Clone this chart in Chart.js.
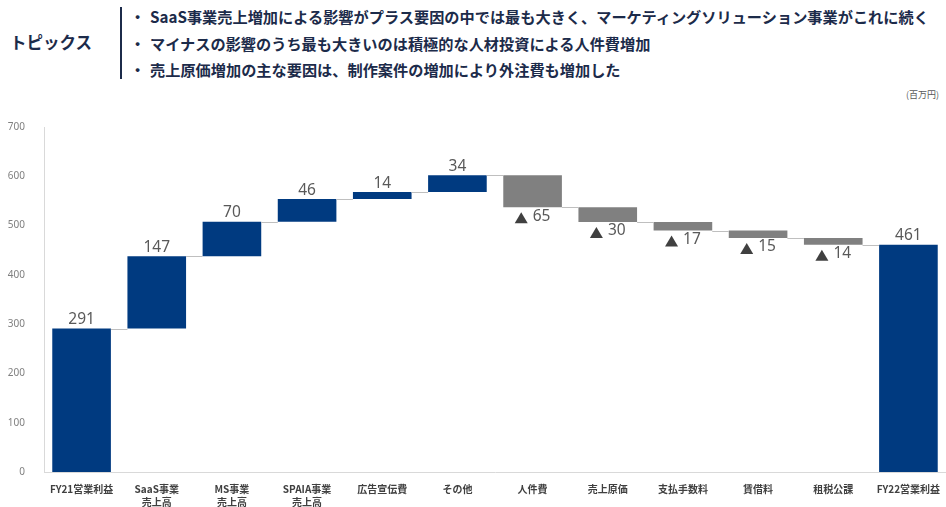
<!DOCTYPE html>
<html>
<head>
<meta charset="utf-8">
<script src="https://cdn.jsdelivr.net/npm/chart.js@4/dist/chart.umd.min.js"></script>
<style>
    body { margin: 0; width: 946px; height: 507px; background: #fff; overflow: hidden; position: relative;
           font-family: "Noto Sans CJK JP", "Noto Sans", sans-serif; }
    .topics-title { position: absolute; left: 10px; top: 30px; font-size: 16.5px; font-weight: bold; color: #1c2b4a; }
    .topics-rule { position: absolute; left: 120px; top: 7px; width: 1.5px; height: 72px; background: #1c2b4a; }
    .topics-list { position: absolute; left: 130px; top: 5px; margin: 0; padding: 0; list-style: none;
                   font-size: 15.2px; font-weight: bold; color: #1c2b4a; }
    .topics-list li { height: 26.5px; line-height: 22px; white-space: nowrap; }
    .topics-list li span { display: inline-block; width: 20px; }
    .unit { position: absolute; left: 906px; top: 88px; font-size: 9px; color: #595959; }
    #chart-wrap { position: absolute; left: 0; top: 0; width: 946px; height: 507px; }
</style>
</head>
<body>
<div class="topics-title">トピックス</div>
<div class="topics-rule"></div>
<ul class="topics-list">
    <li><span>・</span>SaaS事業売上増加による影響がプラス要因の中では最も大きく、マーケティングソリューション事業がこれに続く</li>
    <li><span>・</span>マイナスの影響のうち最も大きいのは積極的な人材投資による人件費増加</li>
    <li><span>・</span>売上原価増加の主な要因は、制作案件の増加により外注費も増加した</li>
</ul>
<div class="unit">(百万円)</div>
<div id="chart-wrap"><canvas id="chart"></canvas></div>

<script>
// Waterfall data (百万円)
const categories = [
    'FY21営業利益', ['SaaS事業', '売上高'], ['MS事業', '売上高'], ['SPAIA事業', '売上高'],
    '広告宣伝費', 'その他', '人件費', '売上原価', '支払手数料', '賃借料', '租税公課', 'FY22営業利益'
];
const startValue = 291;
const changes = [147, 70, 46, 14, 34, -65, -30, -17, -15, -14];
const endValue = 461;
const yTicks = [0, 100, 200, 300, 400, 500, 600, 700];

// Build floating bars from the running total
const ranges = [];
const labels = [];
let total = startValue;
ranges.push([0, startValue]);
labels.push(String(startValue));
changes.forEach(c => {
    ranges.push([total, total + c]);
    labels.push(c < 0 ? String(-c) : String(c));
    total += c;
});
ranges.push([0, endValue]);
labels.push(String(endValue));

const colors = ranges.map((r, i) => {
    if (i === 0 || i === ranges.length - 1) return '#003a80';
    return r[1] < r[0] ? '#808080' : '#003a80';
});

// Connector lines between bars
const connectorPlugin = {
    id: 'connectors',
    afterDatasetsDraw(chart) {
        const ctx = chart.ctx;
        const meta = chart.getDatasetMeta(0);
        const y = chart.scales.y;
        ctx.save();
        ctx.strokeStyle = '#bfbfbf';
        ctx.lineWidth = 1;
        for (let i = 0; i < ranges.length - 1; i++) {
            const level = ranges[i][1];
            const a = meta.data[i], b = meta.data[i + 1];
            const py = Math.round(y.getPixelForValue(level)) + 0.5;
            ctx.beginPath();
            ctx.moveTo(a.x + a.width / 2, py);
            ctx.lineTo(b.x - b.width / 2, py);
            ctx.stroke();
        }
        ctx.restore();
    }
};

// Value labels: above for increases, below with ▲ for decreases
const valueLabelPlugin = {
    id: 'valueLabels',
    afterDatasetsDraw(chart) {
        const ctx = chart.ctx;
        const meta = chart.getDatasetMeta(0);
        const y = chart.scales.y;
        ctx.save();
        ctx.font = '15.5px "Noto Sans", sans-serif';
        ranges.forEach((r, i) => {
            const bar = meta.data[i];
            const neg = r[1] < r[0];
            if (!neg) {
                ctx.fillStyle = '#595959';
                ctx.textAlign = 'center';
                ctx.textBaseline = 'bottom';
                ctx.fillText(labels[i], bar.x, y.getPixelForValue(Math.max(r[0], r[1])) - 1);
            } else {
                const py = y.getPixelForValue(Math.min(r[0], r[1])) + 2;
                const numW = ctx.measureText(labels[i]).width;
                const triW = 13, gap = 5;
                const startX = bar.x - (triW + gap + numW) / 2;
                ctx.fillStyle = '#404040';
                ctx.beginPath();
                ctx.moveTo(startX, py + 14);
                ctx.lineTo(startX + triW, py + 14);
                ctx.lineTo(startX + triW / 2, py + 3);
                ctx.closePath();
                ctx.fill();
                ctx.fillStyle = '#595959';
                ctx.textAlign = 'left';
                ctx.textBaseline = 'top';
                ctx.fillText(labels[i], startX + triW + gap, py - 1);
            }
        });
        ctx.restore();
    }
};

const ctx = document.getElementById('chart').getContext('2d');
new Chart(ctx, {
    type: 'bar',
    data: {
        labels: categories,
        datasets: [{
            data: ranges,
            backgroundColor: colors,
            borderWidth: 0,
            barPercentage: 0.78,
            categoryPercentage: 1
        }]
    },
    options: {
        responsive: true,
        maintainAspectRatio: false,
        animation: false,
        layout: { padding: { top: 127, left: 0, right: 0, bottom: 0 } },
        plugins: { legend: { display: false }, tooltip: { enabled: false } },
        scales: {
            x: {
                grid: { display: false },
                border: { color: '#d9d9d9' },
                ticks: {
                    color: '#404040',
                    font: { size: 10, weight: 'bold', lineHeight: 1.3, family: '"Noto Sans CJK JP", sans-serif' },
                    padding: 3,
                    maxRotation: 0,
                    autoSkip: false
                },
                afterFit(scale) { scale.height = 35; }
            },
            y: {
                min: 0,
                max: 700,
                afterBuildTicks(scale) { scale.ticks = yTicks.map(v => ({ value: v })); },
                grid: { display: false },
                border: { color: '#d9d9d9' },
                ticks: {
                    color: '#808080',
                    font: { size: 10, family: '"Noto Sans", sans-serif' },
                    padding: 11
                },
                afterFit(scale) { scale.width = 44; }
            }
        }
    },
    plugins: [connectorPlugin, valueLabelPlugin]
});
</script>
</body>
</html>
